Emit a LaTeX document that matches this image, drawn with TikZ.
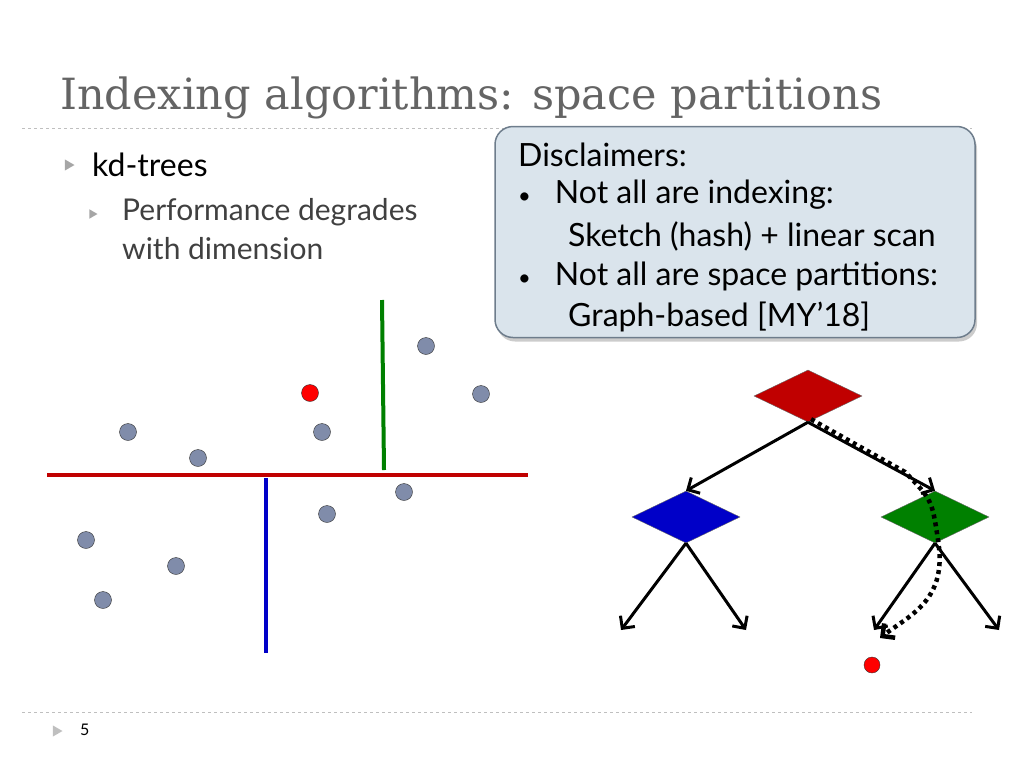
\documentclass[tikz,border=0pt]{standalone}
\usepackage{fontspec}
\setmainfont{Lato}
\newfontfamily\titlefont{DejaVu Serif}
\usetikzlibrary{arrows.meta, shapes.geometric, shadows}

\definecolor{titlegray}{RGB}{100,100,100}
\definecolor{boxfill}{RGB}{218,228,236}
\definecolor{boxline}{RGB}{110,125,140}
\definecolor{ptfill}{RGB}{128,140,170}
\definecolor{kdred}{RGB}{192,0,0}
\definecolor{kdgreen}{RGB}{0,128,0}
\definecolor{kdblue}{RGB}{0,0,200}

\begin{document}
\begin{tikzpicture}[
            x = 1pt, y = -1pt,
            > = {Straight Barb[length=9pt, width=18pt]},
            pt/.style = {circle, draw = black!80, fill = ptfill, minimum size = 17pt, inner sep = 0pt},
            qpt/.style = {pt, fill = red},
            split/.style = {line width = 4pt},
            rule/.style = {dashed, gray!50, thin},
            bulletmark/.style = {regular polygon, regular polygon sides = 3, shape border rotate = -90,
                           fill = gray!70, inner sep = 0pt, minimum size = 13pt},
            cell/.style = {diamond, draw = black!60, minimum width = 108pt, minimum height = 52pt,
                           aspect = 2, inner sep = 0pt},
            branch/.style = {->, line width = 3pt},
            txt/.style = {anchor = west, inner sep = 0pt}
        ]
        \useasboundingbox (0,0) rectangle (1024,768);

        % slide frame
        \node[txt, text = titlegray, font = \titlefont\fontsize{43}{45}\selectfont] (title) at (60,98) {Indexing algorithms: space partitions};
        \draw[rule] (22,128) -- (972,128);
        \draw[rule] (22,712) -- (972,712);
        \node[bulletmark, fill = gray!50] (pm) at (56,731) {};
        \node[txt, font = \fontsize{16}{18}\selectfont] (pnum) at (80,730) {5};

        % bullets
        \node[bulletmark] (m1) at (68,165) {};
        \node[txt, font = \fontsize{32}{34}\selectfont] (kd) at (92,165) {kd-trees};
        \node[bulletmark, minimum size = 11pt] (m2) at (92,214) {};
        \node[txt, align = left, anchor = north west, text = black!75, font = \fontsize{30}{39}\selectfont] (perf) at (122,198) {Performance degrades\\with dimension};

        % disclaimer box
        \node[draw = boxline, fill = boxfill, rounded corners = 18pt, line width = 1.5pt,
              drop shadow = {opacity = 0.4, shadow xshift = 2pt, shadow yshift = -4pt},
              minimum width = 480pt, minimum height = 211pt] (box) at (735,232) {};
        \begin{scope}[font = \fontsize{32}{34}\selectfont]
            \node[txt] (d0) at (518,155) {Disclaimers:};
            \node[txt] (d1) at (518,195) {{\fontsize{22}{24}\selectfont\textbullet}\hspace{24pt}Not all are indexing:};
            \node[txt] (d2) at (568,236) {Sketch (hash) + linear scan};
            \node[txt] (d3) at (518,276) {{\fontsize{22}{24}\selectfont\textbullet}\hspace{24pt}Not all are space partitions:};
            \node[txt] (d4) at (568,317) {Graph-based [MY’18]};
        \end{scope}

        % kd partition of the plane
        \coordinate (hl) at (47,475);
        \coordinate (hr) at (528,475);
        \coordinate (gt) at (382,300);
        \coordinate (gb) at (384,470);
        \coordinate (bt) at (266,478);
        \coordinate (bb) at (266,653);
        \draw[split, kdred] (hl) -- (hr);
        \draw[split, kdgreen] (gt) -- (gb);
        \draw[split, kdblue] (bt) -- (bb);

        \foreach \px/\py [count=\i] in {426/346, 481/394, 128/432, 198/458, 322/432,
                                        404/492, 327/514, 86/540, 176/566, 103/600}
            \node[pt] (p\i) at (\px,\py) {};
        \node[qpt] (q) at (310,393) {};

        % tree
        \node[cell, fill = kdred] (root) at (808,396) {};
        \node[cell, fill = kdblue] (left) at (686,517) {};
        \node[cell, fill = kdgreen] (right) at (935,517) {};
        \coordinate (ll) at (621,630);
        \coordinate (lr) at (746,630);
        \coordinate (rl) at (874,630);
        \coordinate (rr) at (999,630);
        \node[qpt, minimum size = 16pt] (q2) at (872,665) {};

        \draw[branch] (root.south) -- (left.north);
        \draw[branch] (root.south) -- (right.north);
        \draw[branch] (left.south) -- (ll);
        \draw[branch] (left.south) -- (lr);
        \draw[branch] (right.south) -- (rl);
        \draw[branch] (right.south) -- (rr);

        \coordinate (via) at (938,540);
        \draw[->, line width = 4.5pt, dash pattern = on 4pt off 4pt]
            ([xshift=3pt,yshift=3pt]root.south) -- (905,472) .. controls (932,500) .. (via)
            .. controls (948,600) and (910,615) .. (880,638);
\end{tikzpicture}
\end{document}
